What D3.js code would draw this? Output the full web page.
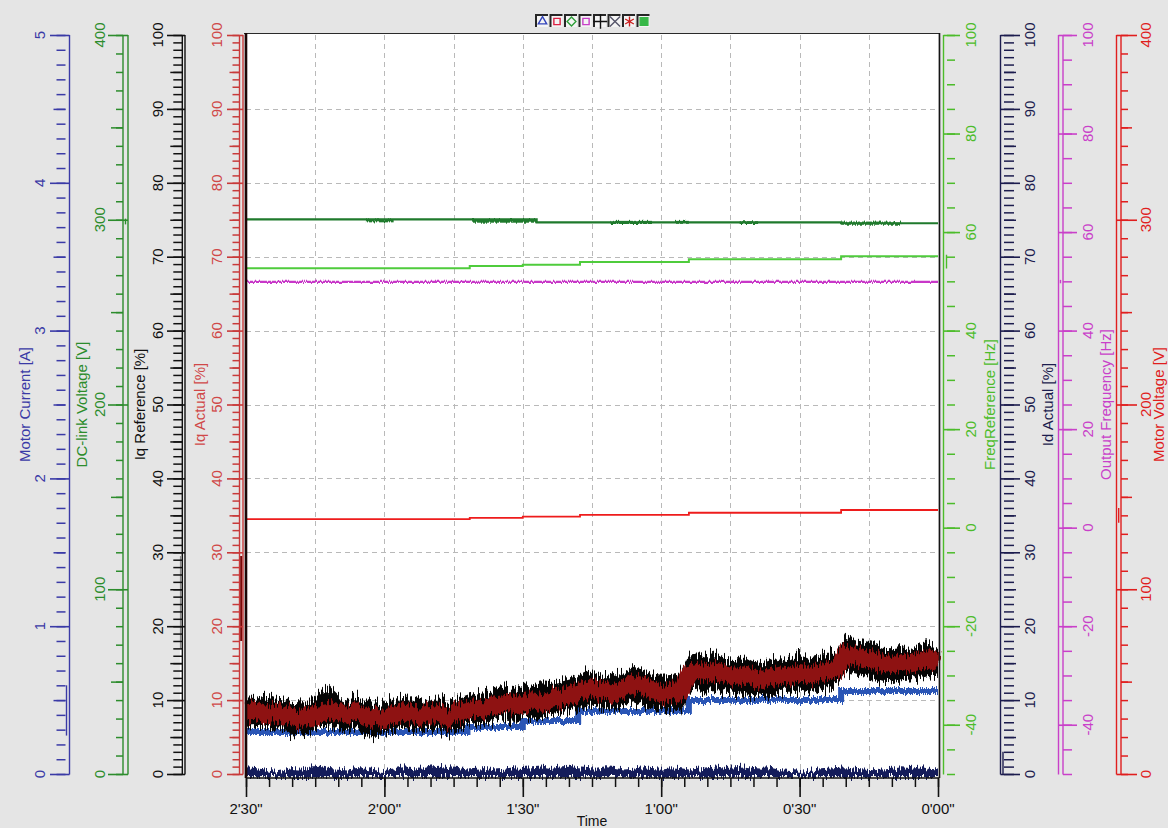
<!DOCTYPE html>
<html>
<head>
<meta charset="utf-8">
<title>Drive trace</title>
<script src="https://cdn.jsdelivr.net/npm/d3@7"></script>
<style>
  html, body { margin: 0; padding: 0; background: #e5e5e5; }
  svg { display: block; font-family: "Liberation Sans", Arial, Helvetica, sans-serif; }
</style>
</head>
<body>
<svg id="chart" width="1168" height="828"></svg>
<script>
// ---------------------------------------------------------------------------
// Recorded signals. Time runs from 2'30" before the end of the recording to 0.
// Noisy channels are stored per 2 s sample (150, 148, ... 0 s).
// ---------------------------------------------------------------------------
const sampleTimes = d3.range(150, -1, -2);

// Iq Actual [%] – centre of the band
const iqActual = [
  8.4, 8.6, 8.2, 8.5, 7.9, 7.6, 7.4, 7.8, 8.4, 8.6,
  8.3, 8.1, 8.4, 7.9, 7.5, 7.4, 7.8, 8.3, 8.0, 7.8,
  8.2, 8.0, 7.6, 8.3, 8.6, 8.9, 8.8, 9.2, 9.4, 9.3,
  9.6, 9.9, 9.7, 10.1, 10.3, 10.6, 11.2, 11.6, 11.3, 11.0,
  11.2, 11.6, 12.2, 12.0, 11.3, 11.0, 11.2, 10.8, 13.6, 13.9,
  13.7, 13.9, 13.5, 13.2, 13.4, 13.0, 12.8, 13.1, 13.4, 13.2,
  13.6, 13.3, 13.7, 13.9, 14.2, 16.2, 15.9, 15.6, 15.4, 15.0,
  14.8, 15.2, 14.9, 15.3, 15.6, 15.0
];
// Iq Reference [%] – upper / lower envelope
const iqRefHigh = [
  10.4, 10.3, 10.6, 10.2, 10.1, 9.5, 9.4, 10.0, 11.0, 11.8,
  10.6, 10.0, 10.5, 10.1, 9.6, 9.3, 9.8, 10.3, 10.4, 9.8,
  10.2, 9.9, 9.6, 10.1, 10.6, 10.9, 11.1, 11.4, 11.7, 11.5,
  11.9, 12.1, 12.4, 12.3, 12.6, 12.9, 13.4, 14.0, 13.5, 13.2,
  13.6, 13.9, 14.5, 14.1, 13.5, 13.3, 13.4, 13.6, 16.0, 16.2,
  15.8, 16.3, 15.6, 15.4, 15.9, 15.2, 15.0, 15.5, 15.8, 15.4,
  16.1, 15.6, 15.9, 16.4, 16.4, 18.7, 18.1, 17.9, 17.6, 17.1,
  17.0, 17.2, 16.9, 17.4, 17.6, 16.9
];
const iqRefLow = [
  6.4, 6.5, 6.3, 6.0, 6.1, 5.2, 5.3, 5.6, 6.3, 6.6,
  6.2, 6.0, 6.2, 5.4, 4.9, 5.2, 5.8, 6.3, 6.0, 5.7,
  6.1, 5.7, 5.3, 6.0, 6.5, 6.8, 6.7, 7.2, 7.4, 7.2,
  7.6, 7.8, 7.5, 8.1, 8.3, 8.6, 9.0, 9.4, 9.3, 8.8,
  8.7, 9.3, 9.7, 9.2, 8.9, 8.5, 8.8, 8.4, 11.2, 11.6,
  11.4, 11.5, 10.9, 10.7, 10.6, 10.7, 10.4, 10.6, 11.0, 11.0,
  11.2, 10.9, 11.4, 11.6, 11.9, 13.8, 13.5, 13.2, 12.9, 12.5,
  12.4, 12.7, 12.8, 13.1, 13.4, 13.0
];
// Id Actual [%] – upper edge of the trace
const idActual = [
  0.9, 0.8, 0.6, 0.3, 0.5, 0.8, 0.7, 1.0, 1.1, 0.8,
  0.7, 0.6, 0.8, 0.7, 0.5, 0.4, 0.6, 0.9, 0.8, 0.7,
  1.0, 1.1, 0.9, 0.8, 0.6, 0.7, 0.8, 0.6, 0.7, 0.9,
  0.8, 0.9, 1.0, 0.8, 1.0, 1.1, 0.9, 0.8, 0.7, 0.9,
  0.8, 0.6, 0.7, 0.9, 0.8, 0.7, 0.9, 0.8, 0.6, 0.7,
  0.9, 1.0, 0.8, 0.9, 1.0, 0.8, 0.7, 0.8, 0.5, 0.4,
  0.3, 0.4, 0.6, 0.7, 0.8, 0.9, 0.7, 0.6, 0.5, 0.6,
  0.7, 0.9, 0.8, 1.0, 0.7, 0.6
];

// stepped channels: [time s, value]
const motorCurrent    = [[150, 0.284], [102, 0.318], [90, 0.359], [78, 0.426], [54, 0.50], [21, 0.562], [0, 0.562]];
const freqReference   = [[150, 52.65], [101.5, 53.1], [90, 53.35], [77.6, 53.9], [54, 54.5], [21, 55.1], [0, 55.1]];
const motorVoltage    = [[150, 138.0], [101.5, 138.6], [90, 139.3], [77.6, 140.3], [54, 141.4], [21, 142.9], [0, 142.9]];
const dcLinkVoltage   = [[150, 300.2], [87, 298.6], [21, 298.1], [0, 298.1]];
const outputFrequency = [[150, 49.9], [0, 49.9]];
// DC-link ripple bursts: [from s, to s, min V, max V]
const dcLinkRipple = [[124, 118, 298.6, 300.2], [101, 87, 298.4, 300.4], [71, 62, 297.7, 299.4],
                      [57, 54, 297.8, 299.4], [43, 39, 297.7, 299.2], [21, 8, 297.3, 299.0]];

// axis ticks and labels
const timeTicks    = [150, 120, 90, 60, 30, 0];
const timeLabels   = ["2'30\"", "2'00\"", "1'30\"", "1'00\"", "0'30\"", "0'00\""];
const currentTicks = [0, 1, 2, 3, 4, 5];
const percentTicks = [0, 10, 20, 30, 40, 50, 60, 70, 80, 90, 100];
const voltTicks    = [0, 100, 200, 300, 400];
const hzTicks      = [-40, -20, 0, 20, 40, 60, 80, 100];

// legend buttons of the trace toolbar
const legendMarks  = ["triangle", "square", "diamond", "square", "plus", "times", "asterisk", "block"];
const legendColors = ["#3344bb", "#dd2244", "#2f9e3a", "#c840c8", "#111111", "#55556a", "#cc2222", "#38b848"];

// ---------------------------------------------------------------------------
const svg = d3.select("#chart");
const P = { left: 246, right: 938, top: 35, bottom: 774 };

const x      = d3.scaleLinear().domain([150, 0]).range([P.left, P.right]);
const yPct   = d3.scaleLinear().domain([0, 100]).range([P.bottom, P.top]);
const yAmp   = d3.scaleLinear().domain([0, 5]).range([P.bottom, P.top]);
const yDC    = d3.scaleLinear().domain([0, 400]).range([P.bottom, P.top]);
const yHz    = d3.scaleLinear().domain([-50, 100]).range([P.bottom, P.top]);
const yVolt  = d3.scaleLinear().domain([0, 400]).range([P.bottom, P.top]);

// jagged-edge filters for the noisy traces
const defs = svg.append("defs");
function jitter(id, scale, fx, seed) {
  const f = defs.append("filter").attr("id", id)
    .attr("filterUnits", "userSpaceOnUse")
    .attr("x", 0).attr("y", 0).attr("width", 1168).attr("height", 828)
    .attr("color-interpolation-filters", "sRGB");
  f.append("feTurbulence").attr("type", "fractalNoise")
    .attr("baseFrequency", `${fx} 0.012`).attr("numOctaves", 2).attr("seed", seed).attr("result", "n");
  f.append("feColorMatrix").attr("in", "n").attr("type", "matrix")
    .attr("values", "1 0 0 0 0  0 0 0 0 0.5  0 0 0 0 0  0 0 0 0 1").attr("result", "m");
  f.append("feDisplacementMap").attr("in", "SourceGraphic").attr("in2", "m")
    .attr("scale", scale).attr("xChannelSelector", "G").attr("yChannelSelector", "R");
}
jitter("jRef", 26, 0.75, 3);
jitter("jAct", 18, 0.65, 7);
jitter("jId", 14, 0.7, 11);
jitter("jCur", 8, 0.8, 5);
jitter("jThin", 4, 0.9, 2);

// plot area
svg.append("rect").attr("x", P.left).attr("y", P.top - 1)
  .attr("width", P.right - P.left).attr("height", P.bottom - P.top + 3).attr("fill", "#ffffff");

// grid
const grid = svg.append("g").attr("stroke", "#b9b9b9").attr("stroke-dasharray", "5,4").attr("stroke-width", 1);
grid.selectAll("line.v").data([135, 120, 105, 90, 75, 60, 45, 30, 15]).join("line")
  .attr("x1", d => Math.round(x(d)) + 0.5).attr("x2", d => Math.round(x(d)) + 0.5)
  .attr("y1", P.top).attr("y2", P.bottom);
grid.selectAll("line.h").data(percentTicks.slice(1, -1)).join("line")
  .attr("y1", d => Math.round(yPct(d)) + 0.5).attr("y2", d => Math.round(yPct(d)) + 0.5)
  .attr("x1", P.left).attr("x2", P.right);

// ---------------------------------------------------------------------------
// traces
const traces = svg.append("g");
const stepLine = (ys) => d3.line().x(d => x(d[0])).y(d => ys(d[1])).curve(d3.curveStepAfter);

// DC-link voltage
traces.append("g").attr("filter", "url(#jThin)").selectAll("rect").data(dcLinkRipple).join("rect")
  .attr("x", d => x(d[0])).attr("width", d => x(d[1]) - x(d[0]))
  .attr("y", d => yDC(d[3])).attr("height", d => yDC(d[2]) - yDC(d[3]))
  .attr("fill", "#1f7a2c");
traces.append("path").datum(dcLinkVoltage).attr("d", stepLine(yDC))
  .attr("fill", "none").attr("stroke", "#1f7a2c").attr("stroke-width", 2.2);

// frequency reference
traces.append("path").datum(freqReference).attr("d", stepLine(yHz))
  .attr("fill", "none").attr("stroke", "#4fcc3c").attr("stroke-width", 2);

// output frequency
traces.append("path").datum(outputFrequency).attr("d", stepLine(yHz))
  .attr("fill", "none").attr("stroke", "#c838c8").attr("stroke-width", 2.4).attr("filter", "url(#jThin)");

// motor voltage
traces.append("path").datum(motorVoltage).attr("d", stepLine(yVolt))
  .attr("fill", "none").attr("stroke", "#ee1c1c").attr("stroke-width", 1.8);

// motor current
traces.append("path").datum(motorCurrent).attr("d", stepLine(yAmp))
  .attr("fill", "none").attr("stroke", "#2a55b5").attr("stroke-width", 6).attr("filter", "url(#jCur)");

// Iq reference envelope
const refSeries = sampleTimes.map((t, i) => [t, iqRefLow[i], iqRefHigh[i]]);
traces.append("path").datum(refSeries)
  .attr("d", d3.area().x(d => x(d[0])).y0(d => yPct(d[1])).y1(d => yPct(d[2])))
  .attr("fill", "#050505").attr("filter", "url(#jRef)");

// Iq actual band
const actSeries = sampleTimes.map((t, i) => [t, iqActual[i]]);
traces.append("path").datum(actSeries)
  .attr("d", d3.line().x(d => x(d[0])).y(d => yPct(d[1])))
  .attr("fill", "none").attr("stroke", "#8e1212").attr("stroke-width", 17)
  .attr("stroke-linejoin", "round").attr("filter", "url(#jAct)");

// Id actual
const idSeries = sampleTimes.map((t, i) => [t, idActual[i]]);
traces.append("path").datum(idSeries)
  .attr("d", d3.area().x(d => x(d[0])).y0(yPct(0) + 3).y1(d => yPct(d[1])))
  .attr("fill", "#141c5a").attr("filter", "url(#jId)");

// ---------------------------------------------------------------------------
// frame
svg.append("line").attr("x1", P.left - 2).attr("x2", P.right + 1).attr("y1", P.top - 1.5).attr("y2", P.top - 1.5)
  .attr("stroke", "#2a2a2a").attr("stroke-width", 1.2);
svg.append("line").attr("x1", P.left).attr("x2", P.left).attr("y1", P.top - 2).attr("y2", P.bottom + 4)
  .attr("stroke", "#1a0606").attr("stroke-width", 2.6);
svg.append("line").attr("x1", P.right + 1.5).attr("x2", P.right + 1.5).attr("y1", P.top - 2).attr("y2", P.bottom + 4)
  .attr("stroke", "#151515").attr("stroke-width", 1.6);

// time axis
const xAxisY = P.bottom + 4;
svg.append("line").attr("x1", P.left).attr("x2", P.right + 1).attr("y1", xAxisY).attr("y2", xAxisY)
  .attr("stroke", "#111").attr("stroke-width", 1.6);
const minorTimes = d3.range(0, 31).map(i => i * 5);
svg.append("g").attr("transform", `translate(0,${xAxisY})`)
  .call(d3.axisBottom(x).tickValues(minorTimes).tickSize(9).tickFormat(""))
  .call(g => g.select(".domain").remove())
  .selectAll("line").attr("stroke", "#111").attr("stroke-width", 1.5);
svg.append("g").attr("transform", `translate(0,${xAxisY})`)
  .call(d3.axisBottom(x).tickValues(timeTicks).tickSize(19).tickFormat(""))
  .call(g => g.select(".domain").remove())
  .selectAll("line").attr("stroke", "#111").attr("stroke-width", 1.6);
svg.append("g").selectAll("text").data(timeTicks).join("text")
  .attr("x", d => x(d)).attr("y", 814).attr("text-anchor", "middle")
  .attr("font-size", 15).attr("fill", "#111").text((d, i) => timeLabels[i]);
svg.append("text").attr("x", (P.left + P.right) / 2).attr("y", 826).attr("text-anchor", "middle")
  .attr("font-size", 14).attr("fill", "#111").text("Time");

// ---------------------------------------------------------------------------
// value axes
const steps = (lo, hi, step) => d3.range(0, Math.round((hi - lo) / step) + 1).map(i => +(lo + i * step).toFixed(4));

function valueAxis(c) {
  const g = svg.append("g").attr("color", c.color);
  const gen = c.side === "left" ? d3.axisLeft : d3.axisRight;
  const [yb, yt] = c.scale.range();
  const rail = (xx, col) => g.append("line").attr("x1", xx).attr("x2", xx).attr("y1", yb + 0.5).attr("y2", yt)
    .attr("stroke", col || "currentColor").attr("stroke-width", 1.4);
  rail(c.inner);
  if (c.outerLine) rail(c.outer);
  (c.markers || []).forEach(m => {
    g.append("line").attr("x1", m.x).attr("x2", m.x)
      .attr("y1", c.scale(m.range[0])).attr("y2", c.scale(m.range[1]))
      .attr("stroke", m.color || "currentColor").attr("stroke-width", m.width || 1.4);
  });
  const ticks = (vals, from, len, w) => g.append("g").attr("transform", `translate(${from},0)`)
    .call(gen(c.scale).tickValues(vals).tickSize(len).tickFormat(""))
    .call(a => a.select(".domain").remove())
    .selectAll("line").attr("stroke-width", w);
  ticks(c.minor, c.outer, c.minorLen, 1.5);
  if (c.mid) ticks(c.mid, c.outer, c.midLen, 1.5);
  ticks(c.major, c.inner, Math.abs(c.majorEnd - c.inner), 1.6);
  g.append("g").selectAll("text").data(c.major).join("text")
    .attr("transform", v => `translate(${c.labelX},${c.scale(v)}) rotate(-90)`)
    .attr("text-anchor", "middle").attr("dy", "0.36em")
    .attr("font-size", 15).attr("fill", c.labelColor || c.color).text(v => v);
  g.append("text")
    .attr("transform", `translate(${c.titleX},${(P.top + P.bottom) / 2}) rotate(-90)`)
    .attr("text-anchor", "middle").attr("dy", "0.36em")
    .attr("font-size", 15).attr("fill", c.labelColor || c.color).text(c.title);
}

// left side
valueAxis({
  title: "Motor Current [A]", scale: yAmp, side: "left", color: "#3a3aa6",
  inner: 69.5, outer: 65.5, outerLine: false, majorEnd: 50,
  major: currentTicks, mid: steps(0.5, 4.5, 1), midLen: 12, minor: steps(0, 5, 0.1), minorLen: 9,
  labelX: 40, titleX: 25,
  markers: [{ x: 66.5, range: [0.26, 0.6] }]
});
valueAxis({
  title: "DC-link Voltage [V]", scale: yDC, side: "left", color: "#2c8c2c",
  inner: 128, outer: 123, outerLine: true, majorEnd: 108,
  major: voltTicks, mid: steps(50, 350, 100), midLen: 12, minor: steps(0, 400, 10), minorLen: 7,
  labelX: 100, titleX: 82,
  markers: [{ x: 125.5, range: [297.5, 300.6] }]
});
valueAxis({
  title: "Iq Reference [%]", scale: yPct, side: "left", color: "#101010",
  inner: 185, outer: 182.3, outerLine: true, majorEnd: 167,
  major: percentTicks, mid: steps(5, 95, 10), midLen: 12, minor: steps(0, 100, 1), minorLen: 9,
  labelX: 158, titleX: 140,
  markers: [{ x: 180.6, range: [17, 29.5], color: "#8a8a8a" }, { x: 180.6, range: [0.8, 17], color: "#ffffff" }]
});
valueAxis({
  title: "Iq Actual [%]", scale: yPct, side: "left", color: "#c83a3a", labelColor: "#d04848",
  inner: 243, outer: 239.5, outerLine: true, majorEnd: 227,
  major: percentTicks, mid: steps(5, 95, 10), midLen: 10, minor: steps(0, 100, 1), minorLen: 7,
  labelX: 217, titleX: 200,
  markers: [{ x: 241.2, range: [18, 29.5], color: "#7a0808", width: 2 }]
});

// right side
valueAxis({
  title: "FreqReference [Hz]", scale: yHz, side: "right", color: "#4cbc2a",
  inner: 943.5, outer: 947, outerLine: false, majorEnd: 960,
  major: hzTicks, minor: steps(-50, 100, 5), minorLen: 8,
  labelX: 971, titleX: 990,
  markers: [{ x: 946.5, range: [52.6, 55.4] }]
});
valueAxis({
  title: "Id Actual [%]", scale: yPct, side: "right", color: "#1c1c4e",
  inner: 1000.5, outer: 1004, outerLine: false, majorEnd: 1020,
  major: percentTicks, mid: steps(5, 95, 10), midLen: 12, minor: steps(0, 100, 1), minorLen: 10,
  labelX: 1030, titleX: 1048,
  markers: [{ x: 1003, range: [0, 3] }]
});
valueAxis({
  title: "Output Frequency [Hz]", scale: yHz, side: "right", color: "#c940c9",
  inner: 1058.5, outer: 1063, outerLine: true, majorEnd: 1077,
  major: hzTicks, minor: steps(-50, 100, 5), minorLen: 9,
  labelX: 1088, titleX: 1106,
  markers: [{ x: 1060.5, range: [49.6, 50.3] }]
});
valueAxis({
  title: "Motor Voltage [V]", scale: yVolt, side: "right", color: "#e01e1e",
  inner: 1116.5, outer: 1121, outerLine: true, majorEnd: 1137,
  major: voltTicks, mid: steps(50, 350, 100), midLen: 11, minor: steps(0, 400, 10), minorLen: 7,
  labelX: 1146, titleX: 1159,
  markers: [{ x: 1118.7, range: [136, 144] }]
});

// ---------------------------------------------------------------------------
// toolbar legend
const symbolFor = {
  triangle: d3.symbolTriangle2, square: d3.symbolSquare2, diamond: d3.symbolDiamond2,
  plus: d3.symbolPlus, times: d3.symbolTimes, asterisk: d3.symbolAsterisk, block: d3.symbolSquare
};
const legend = svg.append("g");
const cell = legend.selectAll("g").data(legendMarks).join("g")
  .attr("transform", (d, i) => `translate(${535 + i * 14.5},14)`);
cell.append("rect").attr("width", 13).attr("height", 13).attr("fill", "#f4f4f4");
cell.append("path").attr("d", "M1,13V1H13").attr("fill", "none").attr("stroke", "#262626").attr("stroke-width", 2);
cell.append("path")
  .attr("transform", "translate(7.5,7.5)")
  .attr("d", d => d3.symbol(symbolFor[d], d === "block" ? 60 : (d === "plus" || d === "times" || d === "asterisk") ? 70 : 50)())
  .attr("fill", (d, i) => d === "block" ? legendColors[i] : "none")
  .attr("stroke", (d, i) => legendColors[i]).attr("stroke-width", 1.4);
</script>
</body>
</html>
